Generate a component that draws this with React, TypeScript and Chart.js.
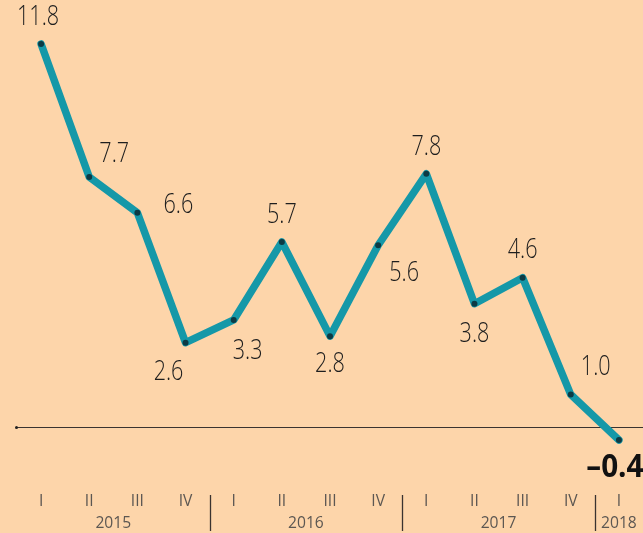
import React, { useEffect, useRef } from "react";
import { Chart, registerables } from "chart.js";

Chart.register(...registerables);

const values = [11.8, 7.7, 6.6, 2.6, 3.3, 5.7, 2.8, 5.6, 7.8, 3.8, 4.6, 1.0, -0.4];
const quarterLabels = ["I", "II", "III", "IV", "I", "II", "III", "IV", "I", "II", "III", "IV", "I"];
const yearLabels = ["2015", "2016", "2017", "2018"];
const yearCenters = [1.5, 5.5, 9.5, 12];
const yearSeparators = [3.5, 7.5, 11.5];
// label offsets (dx, dy) in pixels relative to each point
const labelOffsets: [number, number][] = [
  [-3, -27], [25, -23], [41, -7], [-17, 30], [14, 31], [0, -27], [0, 28],
  [26, 28], [0, -27], [0, 31], [0, -27], [25, -27], [-4, 28],
];

const BG = "#FDD5AA";
const LINE = "#1598A8";
const POINT = "#0C3A44";

function drawCondensed(ctx: CanvasRenderingContext2D, txt: string, x: number, y: number, sx: number) {
  ctx.save();
  ctx.translate(x, y);
  ctx.scale(sx, 1);
  ctx.fillText(txt, 0, 0);
  ctx.restore();
}

const decorPlugin = {
  id: "decor",
  beforeDraw(chart: any) {
    const { ctx, width, height } = chart;
    ctx.save();
    ctx.fillStyle = BG;
    ctx.fillRect(0, 0, width, height);
    ctx.restore();
  },
  beforeDatasetsDraw(chart: any) {
    const { ctx, scales } = chart;
    const y0 = Math.round(scales.y.getPixelForValue(0)) + 0.5;
    ctx.save();
    ctx.strokeStyle = "#3a3330";
    ctx.lineWidth = 1;
    ctx.beginPath();
    ctx.moveTo(16, y0);
    ctx.lineTo(chart.width, y0);
    ctx.stroke();
    ctx.fillStyle = "#222";
    ctx.beginPath();
    ctx.arc(16.5, y0, 1.5, 0, Math.PI * 2);
    ctx.fill();
    ctx.restore();
  },
  afterDraw(chart: any) {
    const { ctx, scales } = chart;
    const xs = scales.x;
    const ys = scales.y;
    ctx.save();
    ctx.textAlign = "center";
    ctx.textBaseline = "middle";
    // value labels
    values.forEach((v, i) => {
      const px = xs.getPixelForValue(i);
      const py = ys.getPixelForValue(v);
      const [dx, dy] = labelOffsets[i];
      const isLast = i === values.length - 1;
      const txt = v < 0 ? "\u2013" + Math.abs(v).toFixed(1) : v.toFixed(1);
      if (isLast) {
        ctx.font = '700 33px "Open Sans", sans-serif';
        ctx.fillStyle = "#111";
        drawCondensed(ctx, txt, px + dx, py + dy, 0.9);
      } else {
        ctx.font = '300 27px "Open Sans", sans-serif';
        ctx.fillStyle = "#1e1e1e";
        drawCondensed(ctx, txt, px + dx, py + dy, 0.8);
      }
    });
    // quarter labels
    ctx.fillStyle = "#5c5752";
    ctx.font = '17px "Open Sans", sans-serif';
    quarterLabels.forEach((q, i) => {
      drawCondensed(ctx, q, xs.getPixelForValue(i), 501, 0.92);
    });
    yearLabels.forEach((yl, i) => {
      drawCondensed(ctx, yl, xs.getPixelForValue(yearCenters[i]), 523, 0.92);
    });
    // separators
    ctx.strokeStyle = "#3a3330";
    ctx.lineWidth = 1.3;
    yearSeparators.forEach((s) => {
      const x = Math.round(xs.getPixelForValue(s)) + 0.5;
      ctx.beginPath();
      ctx.moveTo(x, 495);
      ctx.lineTo(x, 531);
      ctx.stroke();
    });
    ctx.restore();
  },
};

export default function App() {
  const ref = useRef<HTMLCanvasElement | null>(null);
  useEffect(() => {
    document.body.style.margin = "0";
    document.body.style.background = BG;
    const chart = new Chart(ref.current as HTMLCanvasElement, {
      type: "line",
      data: {
        datasets: [
          {
            data: values.map((v, i) => ({ x: i, y: v })),
            borderColor: LINE,
            borderWidth: 7.5,
            borderJoinStyle: "round",
            borderCapStyle: "round",
            pointRadius: 3,
            pointBackgroundColor: POINT,
            pointBorderWidth: 0,
            tension: 0,
          },
        ],
      },
      options: {
        animation: false,
        responsive: false,
        layout: { padding: { left: 17, right: 17, top: 5, bottom: 41 } },
        scales: {
          x: { type: "linear", min: -0.5, max: 12.5, display: false },
          y: { type: "linear", min: -2, max: 13, display: false },
        },
        plugins: { legend: { display: false }, tooltip: { enabled: false } },
      },
      plugins: [decorPlugin],
    } as any);
    return () => chart.destroy();
  }, []);
  return (
    <div style={{ width: 643, height: 533, overflow: "hidden" }}>
      <canvas ref={ref} width={660} height={533} style={{ display: "block" }} />
    </div>
  );
}
